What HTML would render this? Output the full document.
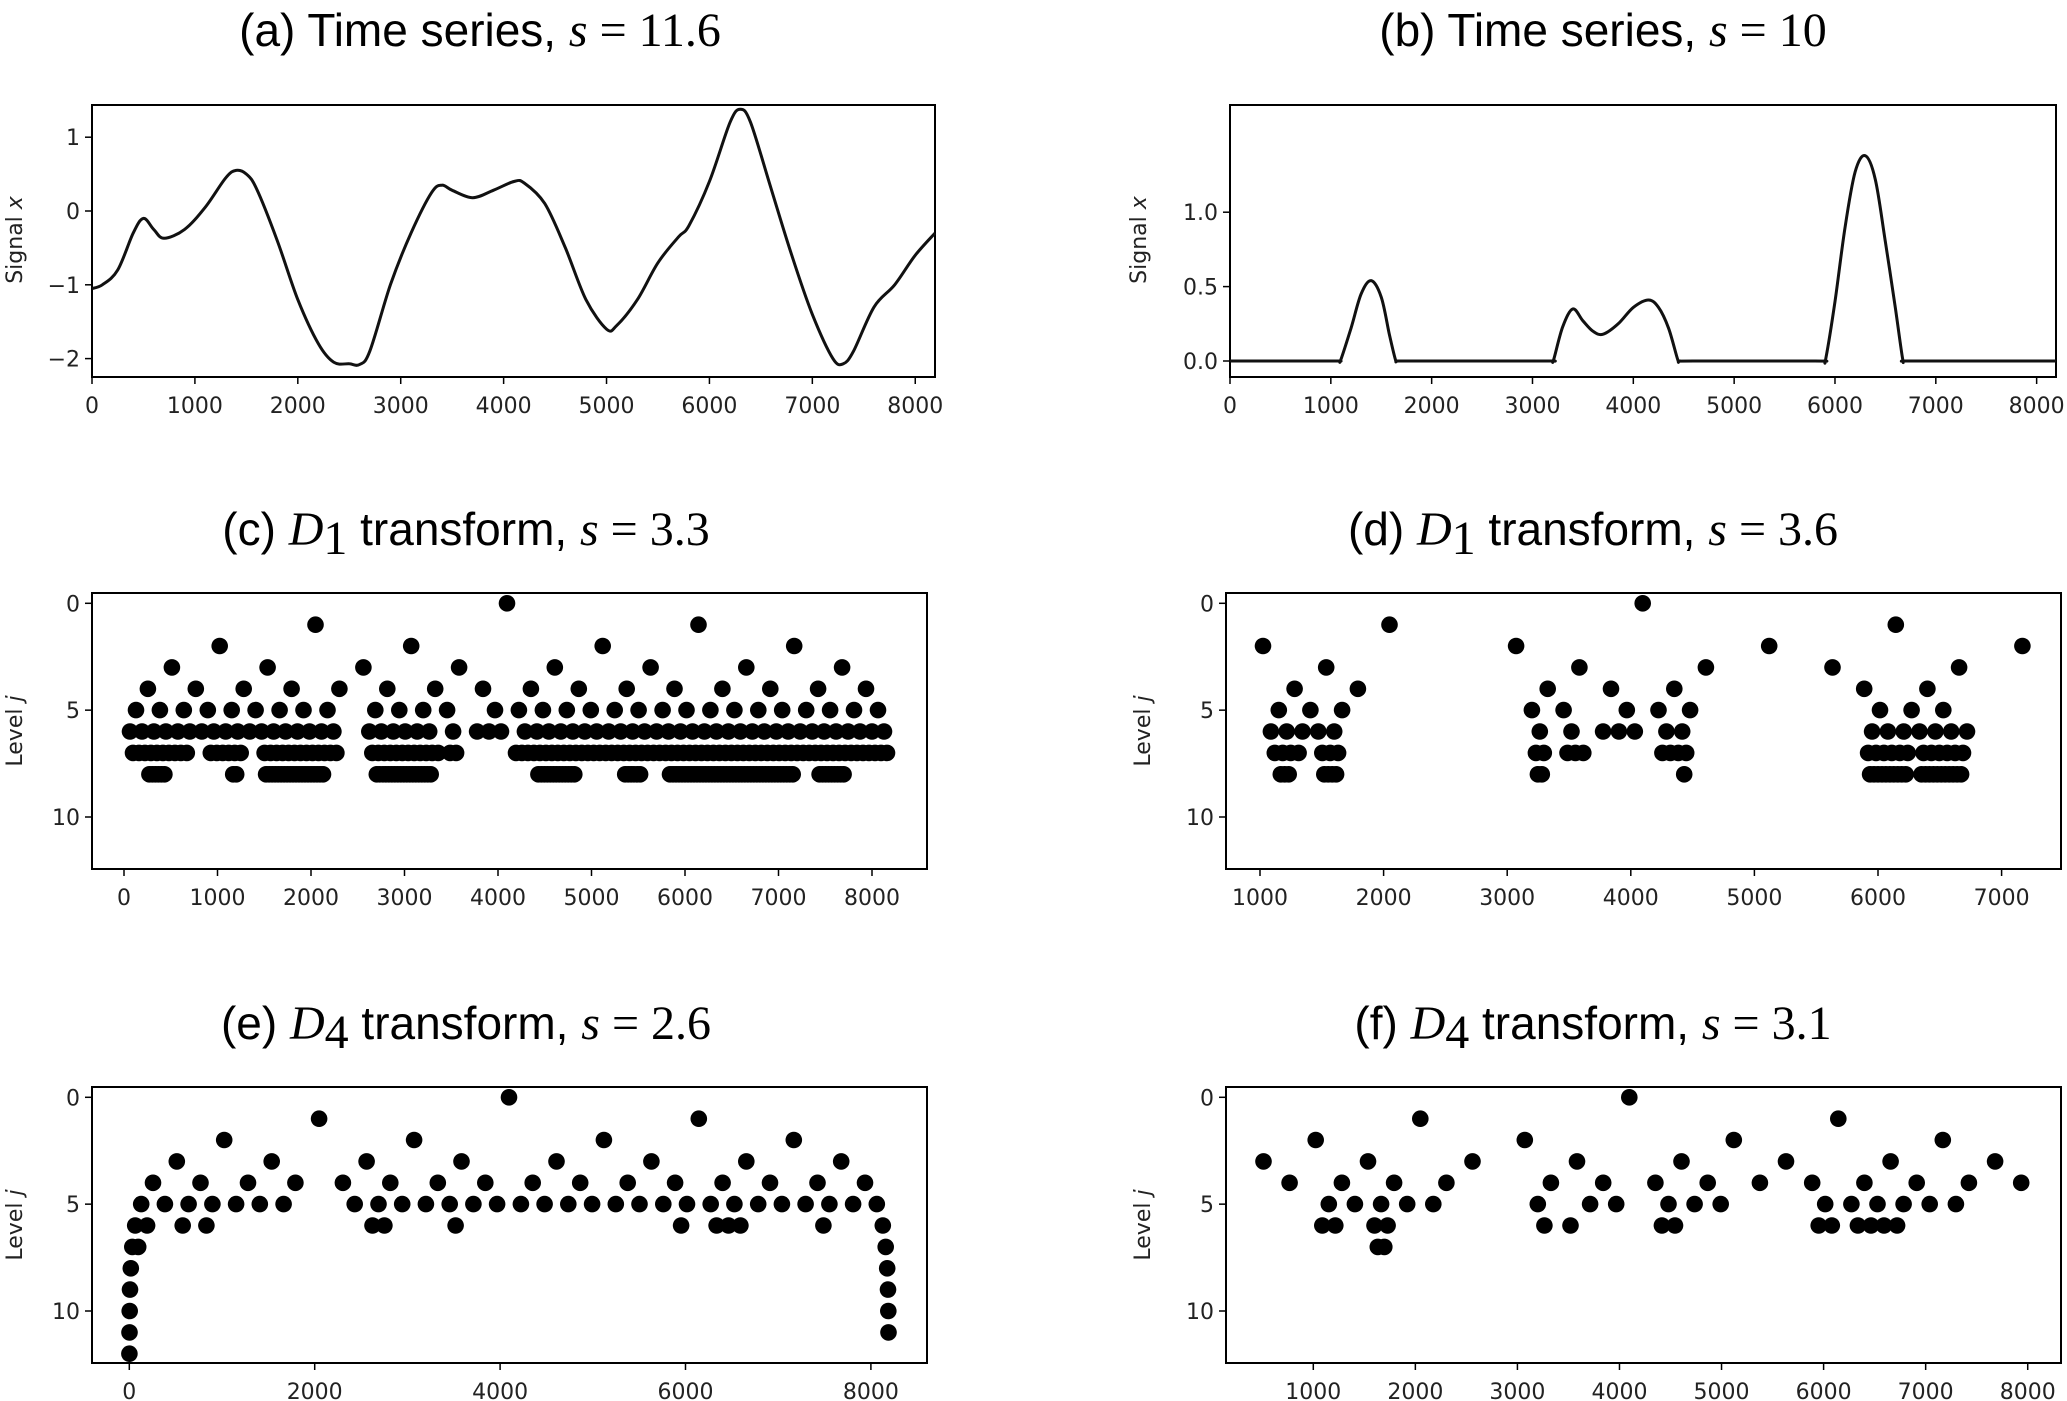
<!DOCTYPE html>
<html><head><meta charset="utf-8"><style>
html,body{margin:0;padding:0;background:#fff}
svg{display:block}
.tk{font-family:"DejaVu Sans","Liberation Sans",sans-serif;font-size:22px;fill:#222}
.tt{font-family:"Liberation Sans",sans-serif;font-size:46px;fill:#000}
.mt{font-family:"Liberation Serif",serif;font-size:48px;fill:#000}
</style></head><body>
<svg id="fig" width="2067" height="1401" viewBox="0 0 2067 1401" xmlns="http://www.w3.org/2000/svg"></svg>
<script>
// ---- data: panel (a) time series ----
const seriesAX=[0,100,250,400,500,600,700,900,1100,1300,1400,1500,1600,1800,2000,2200,2350,2500,2600,2700,2900,3100,3300,3400,3500,3700,3900,4100,4200,4400,4600,4800,5000,5100,5300,5500,5700,5800,6000,6200,6300,6400,6600,6800,7000,7200,7300,7400,7600,7800,8000,8192];
const seriesAY=[-1.05,-1.0,-0.8,-0.3,-0.1,-0.25,-0.37,-0.25,0.05,0.45,0.55,0.5,0.3,-0.4,-1.2,-1.8,-2.05,-2.07,-2.08,-1.9,-1.0,-0.3,0.25,0.35,0.28,0.18,0.28,0.4,0.38,0.1,-0.5,-1.2,-1.6,-1.55,-1.2,-0.7,-0.35,-0.2,0.4,1.2,1.38,1.2,0.3,-0.6,-1.4,-2.0,-2.07,-1.9,-1.3,-1.0,-0.6,-0.3];
// ---- data: panel (b) time series ----
const seriesBX=[0,1000,1080,1100,1200,1300,1400,1500,1580,1640,1660,1800,3100,3190,3210,3300,3400,3500,3600,3700,3850,4000,4150,4250,4350,4440,4460,4600,5800,5890,5910,6000,6100,6200,6300,6400,6500,6600,6670,6690,6800,8192];
const seriesBY=[0,0,0,0.01,0.22,0.45,0.54,0.43,0.18,0.01,0,0,0,0,0.01,0.23,0.35,0.27,0.2,0.18,0.25,0.36,0.41,0.36,0.22,0.01,0,0,0,0,0.02,0.4,0.9,1.27,1.38,1.22,0.8,0.35,0.02,0,0,0];
const ticksAX=[0,1000,2000,3000,4000,5000,6000,7000,8000];
const ticksAY=[1,0,-1,-2];
const ticksBY=[0,0.5,1.0];
const tickLabelsBY=["0.0","0.5","1.0"];
// ---- data: wavelet coefficient index ranges per level [start,end] ----
const dotsC=[[[0,0]],[[0,1]],[[0,3]],[[0,7]],[[0,15]],[[0,8],[10,13],[15,31]],[[0,17],[20,25],[27,27],[29,31],[33,63]],[[1,10],[14,19],[23,35],[41,52],[54,55],[65,127]],[[8,13],[36,37],[47,66],[84,102],[138,150],[167,172],[182,223],[232,240]]];
const dotsD=[[[0,0]],[[0,1]],[[0,3]],[[1,1],[3,6]],[[2,3],[6,8],[11,12]],[[4,6],[12,13],[15,17],[23,25]],[[8,12],[25,25],[27,27],[29,31],[33,34],[46,52]],[[17,20],[23,25],[50,51],[54,56],[66,69],[92,97],[99,104]],[[36,38],[47,50],[101,102],[138,138],[185,194],[198,208]]];
const dotsE=[[[0,0]],[[0,1]],[[0,3]],[[0,7]],[[0,15]],[[0,6],[9,31]],[[0,1],[4,4],[6,6],[20,21],[27,27],[46,46],[49,51],[58,58],[63,63]],[[0,1],[127,127]],[[0,0],[255,255]],[[0,0],[511,511]],[[0,0],[1023,1023]],[[0,0],[2047,2047]],[[0,0]]];
const dotsF=[[[0,0]],[[0,1]],[[0,3]],[[0,7]],[[1,4],[6,15]],[[4,8],[12,12],[14,15],[17,19],[23,28]],[[8,9],[12,13],[25,25],[27,27],[34,35],[46,47],[49,52]],[[25,26]]];
const ticksCX=[0,1000,2000,3000,4000,5000,6000,7000,8000];
const ticksDX=[1000,2000,3000,4000,5000,6000,7000];
const ticksEX=[0,2000,4000,6000,8000];
const ticksFX=[1000,2000,3000,4000,5000,6000,7000,8000];
const ticksLevel=[0,5,10];
const SIGNAL_N=8192;

const NS="http://www.w3.org/2000/svg";
const svg=document.getElementById('fig');
function mk(tag,attrs,parent){const e=document.createElementNS(NS,tag);for(const k in attrs)e.setAttribute(k,attrs[k]);(parent||svg).appendChild(e);return e;}

function makeAxes(name,L,R,T,B){
  const g=mk('g',{});
  
  
  const r=mk('rect',{x:L,y:T,width:R-L,height:B-T,fill:'none',stroke:'#000','stroke-width':2},g);
  
  
  return g;
}
function xTicks(g,name,ticks,labels,sx,B){
  ticks.forEach((t,i)=>{
    const x=sx(t);
    const l=mk('line',{x1:x,x2:x,y1:B,y2:B+7,stroke:'#000','stroke-width':1.5},g);
    
    
    const tx=mk('text',{x:x,y:B+36,'text-anchor':'middle',class:'tk'},g);
    tx.textContent=labels?labels[i]:String(t);
    
    
  });
}
function yTicks(g,name,ticks,labels,sy,L){
  ticks.forEach((t,i)=>{
    const y=sy(t);
    const l=mk('line',{x1:L-7,x2:L,y1:y,y2:y,stroke:'#000','stroke-width':1.5},g);
    
    
    const tx=mk('text',{x:L-12,y:y+8,'text-anchor':'end',class:'tk'},g);
    tx.textContent=labels?labels[i]:String(t).replace('-','\u2212');
    
    
  });
}
function yLabel(g,name,x,y,main,ital){
  const t=mk('text',{x:x,y:y,'text-anchor':'middle',class:'tk',transform:'rotate(-90 '+x+' '+y+')'},g);
  t.textContent=main;
  const s=mk('tspan',{'font-style':'italic'},t);s.textContent=ital;
  
  
}
function title(name,cx,y,label,word,math){
  const t=mk('text',{x:cx,y:y,'text-anchor':'middle'});
  const a=mk('tspan',{class:'tt'},t);a.textContent=label+' ';
  if(word.D){const d=mk('tspan',{class:'mt','font-style':'italic'},t);d.textContent='D';
    const sub=mk('tspan',{class:'mt','font-size':'34','dy':'9'},t);sub.textContent=word.D;
    const b=mk('tspan',{class:'tt','dy':'-9'},t);b.textContent='  '+word.w+', ';}
  else{const b=mk('tspan',{class:'tt'},t);b.textContent=word.w+', ';}
  const s=mk('tspan',{class:'mt','font-style':'italic'},t);s.textContent='s';
  const m=mk('tspan',{class:'mt'},t);m.textContent=' = '+math;
  
  
}
function catmull(pts){
  let d='M'+pts[0][0]+','+pts[0][1];
  for(let i=0;i<pts.length-1;i++){
    const p0=pts[Math.max(0,i-1)],p1=pts[i],p2=pts[i+1],p3=pts[Math.min(pts.length-1,i+2)];
    const c1=[p1[0]+(p2[0]-p0[0])/6,p1[1]+(p2[1]-p0[1])/6];
    const c2=[p2[0]-(p3[0]-p1[0])/6,p2[1]-(p3[1]-p1[1])/6];
    d+=' C'+c1[0].toFixed(1)+','+c1[1].toFixed(1)+' '+c2[0].toFixed(1)+','+c2[1].toFixed(1)+' '+p2[0].toFixed(1)+','+p2[1].toFixed(1);
  }
  return d;
}

// ---- panel a ----
(function(){
  const L=92,R=935,T=105,B=377;
  const sx=v=>L+(v/SIGNAL_N)*(R-L);
  const sy=v=>211-73.8*v;
  const g=makeAxes('panel-a',L,R,T,B);
  const pts=seriesAX.map((x,i)=>[sx(x),sy(seriesAY[i])]);
  const p=mk('path',{d:catmull(pts),fill:'none',stroke:'#111','stroke-width':3,'stroke-linejoin':'round'},g);
  
  
  xTicks(g,'panel-a',ticksAX,null,sx,B);
  yTicks(g,'panel-a',ticksAY,null,sy,L);
  yLabel(g,'panel-a',22,240,'Signal ','x');
  title('panel-a',480,46,'(a)',{w:'Time series'},'11.6');
})();
// ---- panel b ----
(function(){
  const L=1230,R=2056,T=105,B=377;
  const sx=v=>L+(v/SIGNAL_N)*(R-L);
  const sy=v=>361-148.8*v;
  const g=makeAxes('panel-b',L,R,T,B);
  const pts=seriesBX.map((x,i)=>[sx(x),sy(seriesBY[i])]);
  const p=mk('path',{d:catmull(pts),fill:'none',stroke:'#111','stroke-width':3,'stroke-linejoin':'round'},g);
  
  
  xTicks(g,'panel-b',ticksAX,null,sx,B);
  yTicks(g,'panel-b',ticksBY,tickLabelsBY,sy,L);
  yLabel(g,'panel-b',1146,240,'Signal ','x');
  title('panel-b',1603,46,'(b)',{w:'Time series'},'10');
})();

function dotPanel(name,dots,L,R,T,B,x0,px0,scale,y0,xt,titleArgs,ylx){
  const sx=v=>px0+(v-x0)*scale;
  const sy=j=>y0+21.37*j;
  const g=makeAxes(name,L,R,T,B);
  dots.forEach((ranges,level)=>{
    ranges.forEach(rg=>{
      for(let k=rg[0];k<=rg[1];k++){
        const pos=(k+0.5)*SIGNAL_N/Math.pow(2,level);
        const c=mk('circle',{cx:sx(pos).toFixed(1),cy:sy(level).toFixed(1),r:8.3,fill:'#000'},g);
        
        
      }
    });
  });
  xTicks(g,name,xt,null,sx,B);
  yTicks(g,name,ticksLevel,null,sy,L);
  yLabel(g,name,ylx,(T+B)/2,'Level ','j');
  title(name,titleArgs[0],titleArgs[1],titleArgs[2],{D:titleArgs[3],w:'transform'},titleArgs[4]);
}
dotPanel('panel-c',dotsC,92,927,593,869,0,124,0.0935,603.3,ticksCX,[466,545,'(c)','1','3.3'],22);
dotPanel('panel-d',dotsD,1226,2061,593,869,1000,1260,0.1236,603.3,ticksDX,[1593,545,'(d)','1','3.6'],1150);
dotPanel('panel-e',dotsE,92,927,1087,1363,0,129.3,0.0927,1097.3,ticksEX,[466,1039,'(e)','4','2.6'],22);
dotPanel('panel-f',dotsF,1226,2061,1087,1363,1000,1313.3,0.10206,1097.3,ticksFX,[1593,1039,'(f)','4','3.1'],1150);
</script>
</body></html>
